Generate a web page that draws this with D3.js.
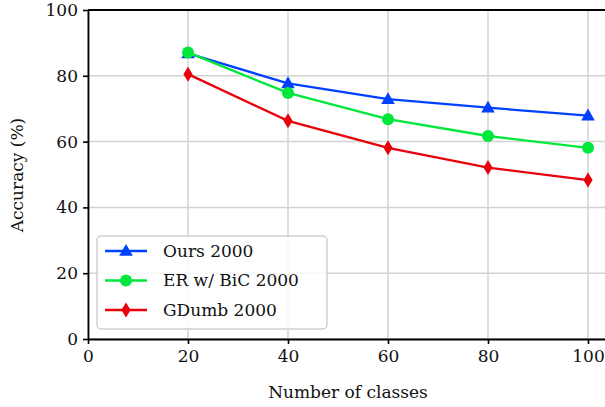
<!DOCTYPE html>
<html>
<head>
<meta charset="utf-8">
<script src="https://cdn.jsdelivr.net/npm/d3@7"></script>
<style>
  body { margin: 0; background: #fff; }
  svg { display: block; font-family: "DejaVu Serif", serif; }
</style>
</head>
<body>
<div id="chart"></div>
<script>
// data
var classes = [20, 40, 60, 80, 100];
var oursAcc = [86.8, 77.7, 72.9, 70.3, 67.9];
var bicAcc = [87.1, 74.8, 66.8, 61.7, 58.1];
var gdumbAcc = [80.5, 66.3, 58.1, 52.1, 48.3];
var xTicks = [0, 20, 40, 60, 80, 100];
var yTicks = [0, 20, 40, 60, 80, 100];

var series = [
    {name: "Ours 2000", values: oursAcc, color: "#0040ff", marker: "triangle"},
    {name: "ER w/ BiC 2000", values: bicAcc, color: "#00e83b", marker: "circle"},
    {name: "GDumb 2000", values: gdumbAcc, color: "#e8000b", marker: "diamond"}
];

var W = 605, H = 407;
var FONT = "DejaVu Serif, serif";
var FS = "17px";
var x = d3.scaleLinear().domain([0, 105]).range([88, 613]);
var y = d3.scaleLinear().domain([0, 100]).range([339, 10]);

var svg = d3.select("#chart").append("svg")
    .attr("width", W)
    .attr("height", H);

// grid
svg.append("g").selectAll("line.vg")
    .data(xTicks)
    .enter().append("line")
    .attr("x1", function(d){ return x(d); })
    .attr("x2", function(d){ return x(d); })
    .attr("y1", y(0)).attr("y2", y(100))
    .attr("stroke", "#d3d3d3").attr("stroke-width", 1.5);
svg.append("g").selectAll("line.hg")
    .data(yTicks)
    .enter().append("line")
    .attr("y1", function(d){ return y(d); })
    .attr("y2", function(d){ return y(d); })
    .attr("x1", x(0)).attr("x2", x(105))
    .attr("stroke", "#d3d3d3").attr("stroke-width", 1.5);

// axes
var xAxis = svg.append("g")
    .attr("transform", "translate(0," + y(0) + ")")
    .call(d3.axisBottom(x).tickValues(xTicks).tickSize(5).tickPadding(6).tickSizeOuter(0));
var yAxis = svg.append("g")
    .attr("transform", "translate(" + x(0) + ",0)")
    .call(d3.axisLeft(y).tickValues(yTicks).tickSize(5).tickPadding(5).tickSizeOuter(0));
[xAxis, yAxis].forEach(function(a){
    a.select(".domain").attr("stroke", "#000").attr("stroke-width", 1.8);
    a.selectAll(".tick line").attr("stroke", "#000").attr("stroke-width", 1.6);
    a.selectAll(".tick text").attr("fill", "#111").style("font-size", FS)
        .style("font-family", FONT);
});
// top spine
svg.append("line")
    .attr("x1", x(0)).attr("x2", x(105))
    .attr("y1", y(100)).attr("y2", y(100))
    .attr("stroke", "#000").attr("stroke-width", 1.8);

// lines + markers
function markerPath(kind){
    if(kind == "diamond"){
        return "M0,-7.5L4.6,0L0,7.5L-4.6,0Z";
    }
    if(kind == "triangle"){
        return "M0,-7L6.8,4.8L-6.8,4.8Z";
    }
    return d3.symbol().type(d3.symbolCircle).size(Math.PI * 6 * 6)();
}

var line = d3.line()
    .x(function(d, i){ return x(classes[i]); })
    .y(function(d){ return y(d); });

series.forEach(function(s){
    var g = svg.append("g");
    g.append("path")
        .attr("d", line(s.values))
        .attr("fill", "none")
        .attr("stroke", s.color)
        .attr("stroke-width", 2.3);
    g.selectAll("path.m")
        .data(s.values)
        .enter().append("path")
        .attr("class", "m")
        .attr("transform", function(d, i){ return "translate(" + x(classes[i]) + "," + y(d) + ")"; })
        .attr("d", markerPath(s.marker))
        .attr("fill", s.color);
});

// legend
var legend = svg.append("g").attr("transform", "translate(97,236)");
legend.append("rect")
    .attr("width", 230).attr("height", 93)
    .attr("rx", 4)
    .attr("fill", "rgba(255,255,255,0.8)")
    .attr("stroke", "#d0d0d0")
    .attr("stroke-width", 1.5);
series.forEach(function(s, i){
    var ly = 15 + i * 29.5;
    legend.append("line")
        .attr("x1", 8).attr("x2", 50)
        .attr("y1", ly).attr("y2", ly)
        .attr("stroke", s.color).attr("stroke-width", 2.3);
    legend.append("path")
        .attr("transform", "translate(29," + ly + ")")
        .attr("d", markerPath(s.marker))
        .attr("fill", s.color);
    legend.append("text")
        .attr("x", 66).attr("y", ly)
        .attr("dy", "0.35em")
        .attr("fill", "#111")
        .style("font-size", FS)
        .text(s.name);
});

// axis titles
svg.append("text")
    .attr("x", 348).attr("y", 398)
    .attr("text-anchor", "middle")
    .attr("fill", "#111")
    .style("font-size", FS)
    .text("Number of classes");
svg.append("text")
    .attr("transform", "translate(23,175) rotate(-90)")
    .attr("text-anchor", "middle")
    .attr("fill", "#111")
    .style("font-size", FS)
    .text("Accuracy (%)");
</script>
</body>
</html>
